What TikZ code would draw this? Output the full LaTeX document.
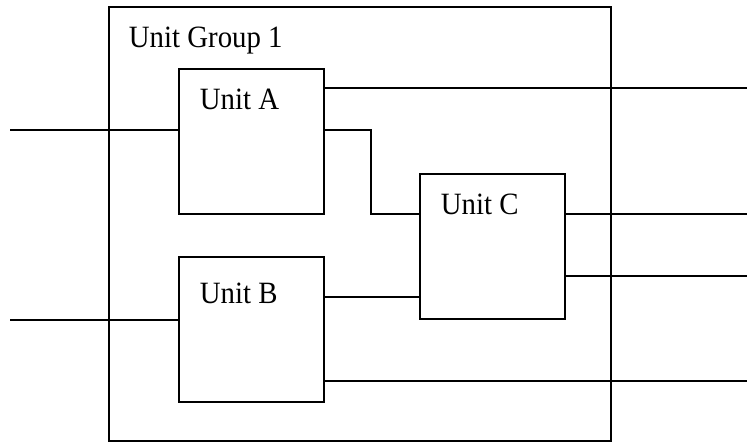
\documentclass[tikz,border=0pt]{standalone}
\usepackage{fontspec}
\setmainfont{Liberation Serif}
\begin{document}
\begin{tikzpicture}[x=1pt,y=-1pt,line width=1.8pt,
  unitbox/.style={draw,minimum width=145pt,minimum height=145pt,inner sep=0pt,anchor=north west},
  lbl/.style={anchor=base west,inner sep=0pt,font=\fontsize{31}{36}\selectfont}]
\useasboundingbox (0,0) rectangle (748,443);
\node[draw,minimum width=502pt,minimum height=434pt,inner sep=0pt,anchor=north west] (grp) at (108,6) {};
\node[unitbox] (A) at (178,68) {};
\node[unitbox] (B) at (178,256) {};
\node[unitbox] (C) at (419,173) {};
\node[lbl] (tg) at (128,48) {\scalebox{0.93}[1]{Unit Group 1}};
\node[lbl] (ta) at (199,110) {\scalebox{0.93}[1]{Unit A}};
\node[lbl] (tb) at (199,304) {\scalebox{0.93}[1]{Unit B}};
\node[lbl] (tc) at (440,215) {\scalebox{0.93}[1]{Unit C}};
\coordinate (inA) at (10,130);
\coordinate (inB) at (10,320);
\coordinate (oA) at (747,88);
\coordinate (oC1) at (747,214);
\coordinate (oC2) at (747,276);
\coordinate (oB) at (747,381);
\coordinate (j) at (371,214);
\coordinate (bc) at (323,297);
\draw (inA) -- (inA -| A.west);
\draw (inB) -- (inB -| B.west);
\draw (oA -| A.east) -- (oA);
\draw (inA -| A.east) -| (j) -- (j -| C.west);
\draw (bc -| B.east) -- (bc -| C.west);
\draw (oC1 -| C.east) -- (oC1);
\draw (oC2 -| C.east) -- (oC2);
\draw (oB -| B.east) -- (oB);
\end{tikzpicture}
\end{document}
